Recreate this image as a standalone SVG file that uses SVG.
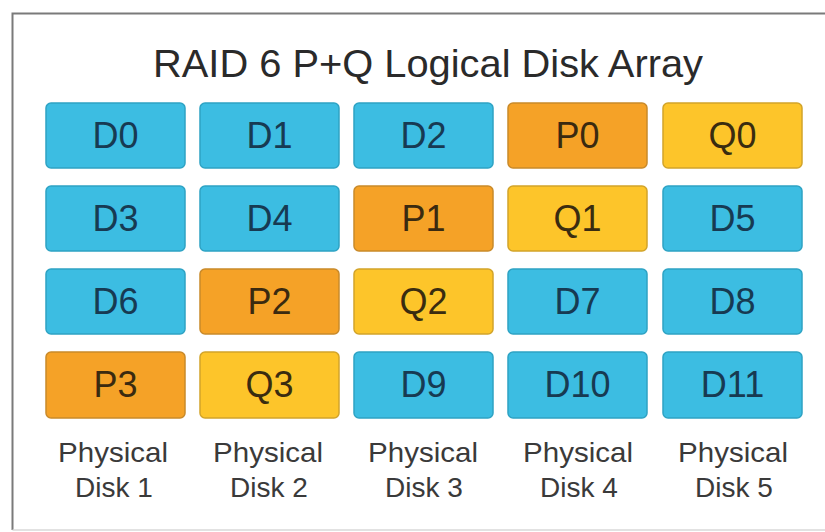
<svg xmlns="http://www.w3.org/2000/svg" width="825" height="532" viewBox="0 0 825 532">
<style>
.t{font-family:"Liberation Sans",Arial,sans-serif;text-anchor:middle}
.title{font-size:39px;fill:#2a2a2a}
.lbl{font-size:36px}
.cap{font-size:28px;fill:#3a3a3a}
.D rect{fill:#3cbde2;stroke:#2ea3c4;stroke-width:1.5}
.D text{fill:#173a52}
.P rect{fill:#f5a227;stroke:#c98a2a;stroke-width:1.5}
.P text{fill:#3a2a10}
.Q rect{fill:#fdc52a;stroke:#d2a42a;stroke-width:1.5}
.Q text{fill:#3a2c10}
</style>
<rect x="0" y="0" width="825" height="532" fill="#ffffff"/>
<g id="frame" fill="none">
<path d="M825 13.5 H12.5 V530" stroke="#7a7a7a" stroke-width="2"/>
<path d="M12.5 530 H825" stroke="#d8d8d8" stroke-width="1.5"/>
</g>
<text class="t title" x="428" y="77" textLength="550" lengthAdjust="spacingAndGlyphs">RAID 6 P+Q Logical Disk Array</text>
<g id="r0c0" class="D"><rect x="46" y="103" width="139" height="65" rx="5"/><text class="t lbl" x="115.5" y="148">D0</text></g>
<g id="r0c1" class="D"><rect x="200" y="103" width="139" height="65" rx="5"/><text class="t lbl" x="269.5" y="148">D1</text></g>
<g id="r0c2" class="D"><rect x="354" y="103" width="139" height="65" rx="5"/><text class="t lbl" x="423.5" y="148">D2</text></g>
<g id="r0c3" class="P"><rect x="508" y="103" width="139" height="65" rx="5"/><text class="t lbl" x="577.5" y="148">P0</text></g>
<g id="r0c4" class="Q"><rect x="663" y="103" width="139" height="65" rx="5"/><text class="t lbl" x="732.5" y="148">Q0</text></g>

<g id="r1c0" class="D"><rect x="46" y="186" width="139" height="65" rx="5"/><text class="t lbl" x="115.5" y="231">D3</text></g>
<g id="r1c1" class="D"><rect x="200" y="186" width="139" height="65" rx="5"/><text class="t lbl" x="269.5" y="231">D4</text></g>
<g id="r1c2" class="P"><rect x="354" y="186" width="139" height="65" rx="5"/><text class="t lbl" x="423.5" y="231">P1</text></g>
<g id="r1c3" class="Q"><rect x="508" y="186" width="139" height="65" rx="5"/><text class="t lbl" x="577.5" y="231">Q1</text></g>
<g id="r1c4" class="D"><rect x="663" y="186" width="139" height="65" rx="5"/><text class="t lbl" x="732.5" y="231">D5</text></g>

<g id="r2c0" class="D"><rect x="46" y="269" width="139" height="65" rx="5"/><text class="t lbl" x="115.5" y="314">D6</text></g>
<g id="r2c1" class="P"><rect x="200" y="269" width="139" height="65" rx="5"/><text class="t lbl" x="269.5" y="314">P2</text></g>
<g id="r2c2" class="Q"><rect x="354" y="269" width="139" height="65" rx="5"/><text class="t lbl" x="423.5" y="314">Q2</text></g>
<g id="r2c3" class="D"><rect x="508" y="269" width="139" height="65" rx="5"/><text class="t lbl" x="577.5" y="314">D7</text></g>
<g id="r2c4" class="D"><rect x="663" y="269" width="139" height="65" rx="5"/><text class="t lbl" x="732.5" y="314">D8</text></g>

<g id="r3c0" class="P"><rect x="46" y="352" width="139" height="66" rx="5"/><text class="t lbl" x="115.5" y="397">P3</text></g>
<g id="r3c1" class="Q"><rect x="200" y="352" width="139" height="66" rx="5"/><text class="t lbl" x="269.5" y="397">Q3</text></g>
<g id="r3c2" class="D"><rect x="354" y="352" width="139" height="66" rx="5"/><text class="t lbl" x="423.5" y="397">D9</text></g>
<g id="r3c3" class="D"><rect x="508" y="352" width="139" height="66" rx="5"/><text class="t lbl" x="577.5" y="397">D10</text></g>
<g id="r3c4" class="D"><rect x="663" y="352" width="139" height="66" rx="5"/><text class="t lbl" x="732.5" y="397">D11</text></g>

<g id="disk1"><text class="t cap" x="113" y="462" textLength="110" lengthAdjust="spacingAndGlyphs">Physical</text><text class="t cap" x="114" y="497">Disk 1</text></g>
<g id="disk2"><text class="t cap" x="268" y="462" textLength="110" lengthAdjust="spacingAndGlyphs">Physical</text><text class="t cap" x="269" y="497">Disk 2</text></g>
<g id="disk3"><text class="t cap" x="423" y="462" textLength="110" lengthAdjust="spacingAndGlyphs">Physical</text><text class="t cap" x="424" y="497">Disk 3</text></g>
<g id="disk4"><text class="t cap" x="578" y="462" textLength="110" lengthAdjust="spacingAndGlyphs">Physical</text><text class="t cap" x="579" y="497">Disk 4</text></g>
<g id="disk5"><text class="t cap" x="733" y="462" textLength="110" lengthAdjust="spacingAndGlyphs">Physical</text><text class="t cap" x="734" y="497">Disk 5</text></g>
</svg>
